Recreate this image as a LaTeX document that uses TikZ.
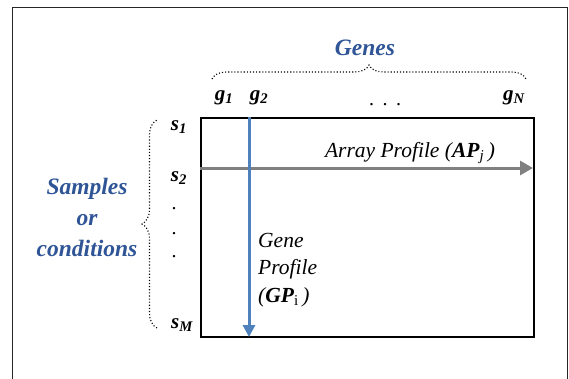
\documentclass[tikz,border=0pt]{standalone}
\usepackage{fontspec}
\setmainfont{Liberation Serif}
\usetikzlibrary{decorations.pathreplacing,arrows.meta}
\definecolor{txtblue}{HTML}{2F5597}
\definecolor{arrblue}{HTML}{4F81BD}
\definecolor{arrgray}{HTML}{808080}
\tikzset{
  frame/.style={line width=1.4pt, draw=black!85},
  grid/.style={line width=1.5pt, draw=black},
  headtxt/.style={text=txtblue, font=\fontsize{23.5}{31}\selectfont\bfseries\itshape, inner sep=0pt},
  lbl/.style={font=\fontsize{21}{22}\selectfont\bfseries\itshape, inner sep=0pt},
  dotlbl/.style={font=\fontsize{20}{22}\selectfont, inner sep=0pt},
  prof/.style={font=\fontsize{21.5}{27.5}\selectfont\itshape, inner sep=0pt},
  dotbrace/.style={dotted, line width=1.1pt, decorate, decoration={brace, amplitude=#1}},
  blueline/.style={line width=3pt, draw=arrblue, -{Triangle[length=12pt,width=12pt]}},
  grayline/.style={line width=3pt, draw=arrgray, -{Triangle[length=13pt,width=14pt]}},
}
\begin{document}
\begin{tikzpicture}[x=1pt,y=-1pt]
\useasboundingbox (0,0) rectangle (569,378);
\draw[frame] (12.5,400) -- (12.5,7.5) -- (567.5,7.5) -- (567.5,400);
\node[grid, minimum width=333pt, minimum height=219pt, inner sep=0pt, anchor=north west] (mat) at (200,117) {};
% headings
\node[headtxt] (genes) at (365,48) {Genes};
\node[headtxt, align=center] (samples) at (87,217) {Samples\\or\\conditions};
% braces
\coordinate (tbL) at (212,79);
\coordinate (tbR) at (526,79);
\draw[dotbrace=14pt] (tbL) -- (tbR);
\coordinate (lbB) at (157,328);
\coordinate (lbT) at (157,120);
\draw[dotbrace=15pt] (lbB) -- (lbT);
% gene labels
\node[lbl] (g1) at (224,98) {g\textsubscript{1}};
\node[lbl] (g2) at (259,98) {g\textsubscript{2}};
\node[dotlbl, anchor=base] (gdots) at (385,105) {.\hspace{8.5pt}.\hspace{8.5pt}.};
\node[lbl] (gN) at (514,98) {g\textsubscript{N}};
% sample labels
\node[lbl] (s1) at (179,127) {s\textsubscript{1}};
\node[lbl] (s2) at (179,178) {s\textsubscript{2}};
\node[dotlbl, anchor=base] (d1) at (174,209) {.};
\node[dotlbl, anchor=base] (d2) at (174,234) {.};
\node[dotlbl, anchor=base] (d3) at (174,257) {.};
\node[lbl] (sM) at (182,325) {s\textsubscript{M}};
% profiles
\coordinate (apS) at (200,168);
\coordinate (apE) at (533,168);
\draw[grayline] (apS) -- (apE);
\coordinate (gpS) at (249,117);
\coordinate (gpE) at (249,337);
\draw[blueline] (gpS) -- (gpE);
\node[prof] (ap) at (410,153) {Array Profile (\textbf{AP}\textsubscript{j}\,)};
\node[prof, align=left, anchor=west] (gp) at (258,270) {Gene\\Profile\\(\textbf{GP}\textsubscript{\upshape i}\,)};
\end{tikzpicture}
\end{document}
